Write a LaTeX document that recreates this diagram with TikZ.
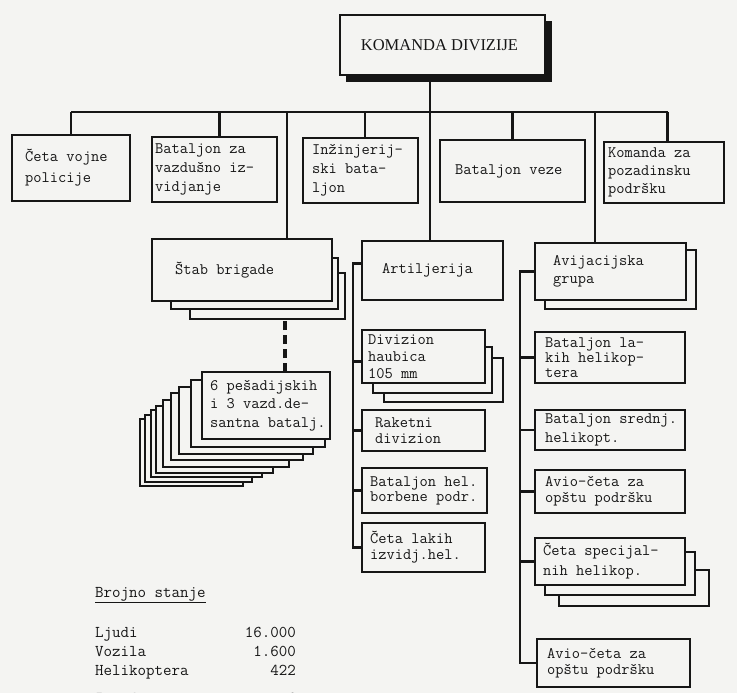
\documentclass[tikz,border=0pt]{standalone}
\usepackage{fontspec}
\setmainfont{Liberation Serif}
\usetikzlibrary{calc}
\definecolor{paper}{RGB}{244,244,242}
\definecolor{ink}{RGB}{22,22,22}
\tikzset{
  ubx/.style={draw=ink, line width=1.8pt, fill=paper, rectangle, inner sep=0pt, outer sep=0pt},
  utx/.style={font=\ttfamily\fontsize{16}{#1}\selectfont, align=left, inner sep=0pt, text=ink},
  btx/.style={font=\ttfamily\fontsize{16.5}{19}\selectfont, inner sep=0pt, text=ink},
  conn/.style={draw=ink, line width=2.4pt},
  dconn/.style={draw=ink, line width=3.2pt, dash pattern=on 9pt off 5pt},
}
% \orgbox[baselineskip]{name}{x1}{y1}{x2}{y2}{text x offset}{text}
\newcommand\orgbox[8][18]{%
  \node[ubx, minimum width={(#5-#3)*1pt}, minimum height={(#6-#4)*1pt}] (#2) at ({(#3+#5)/2},{(#4+#6)/2}) {};
  \node[utx=#1, anchor=west] (#2t) at ([xshift=#7pt]#2.west) {#8};}
% \backcard{name}{x1}{y1}{x2}{y2}
\newcommand\backcard[5]{%
  \node[ubx, minimum width={(#4-#2)*1pt}, minimum height={(#5-#3)*1pt}] (#1) at ({(#2+#4)/2},{(#3+#5)/2}) {};}
\begin{document}
\begin{tikzpicture}[x=1pt,y=-1pt]
\useasboundingbox (0,0) rectangle (737,693);
\clip (0,0) rectangle (737,693);
\fill[paper] (0,0) rectangle (737,693);

% top command box with heavy shadow
\node[fill=ink, minimum width=206pt, minimum height=61pt, inner sep=0pt, outer sep=0pt] (kds) at (449,51.5) {};
\node[ubx, minimum width=205pt, minimum height=60pt] (kd) at (442.5,45) {};
\node[font=\fontsize{16.5}{18}\selectfont, text=ink, inner sep=0pt] (kdt) at ([xshift=-3pt]kd.center) {KOMANDA DIVIZIJE};

% first row
\orgbox[21]{cvp}{12}{135}{130}{201}{13}{Četa vojne\\policije}
\orgbox[19]{bzv}{152}{137}{277}{202}{3}{Bataljon za\\vazdušno iz-\\vidjanje}
\orgbox[19]{ib}{303}{138}{418}{203}{9}{Inžinjerij-\\ski bata-\\ljon}
\orgbox{bv}{440}{140}{585}{202}{15}{Bataljon veze}
\orgbox[18]{kpp}{604}{142}{724}{203}{4}{Komanda za\\pozadinsku\\podršku}

% Stab brigade with stacked cards
\backcard{stabs2}{190}{273}{345}{319}
\backcard{stabs1}{171}{258}{338}{309}
\orgbox{stab}{152}{239}{332}{301}{23}{Štab brigade}

% battalion fan
\foreach \i/\l/\b/\r in {8/140/486/243, 7/145/482/252, 6/151/477/262, 5/156/473/273, 4/163/467/289, 3/171/460/303, 2/179/454/313, 1/191/447/325}{
  \node[ubx, minimum width={(\r-\l)*1pt}, minimum height=67pt] (pes\i) at ({(\l+\r)/2},{\b-33.5}) {};
}
\orgbox[18.5]{pes}{202}{372}{330}{439}{8}{6 pešadijskih\\i 3 vazd.de-\\santna batalj.}

% artillery column
\orgbox{art}{362}{241}{503}{300}{20}{Artiljerija}
\backcard{dhs2}{384}{358}{503}{402}
\backcard{dhs1}{373}{347}{492}{393}
\orgbox[17]{dh}{362}{330}{485}{383}{6}{Divizion\\haubica\\105 mm}
\orgbox[16]{rd}{362}{410}{485}{451}{13}{Raketni\\divizion}
\orgbox[15]{bhb}{362}{468}{487}{513}{8}{Bataljon hel.\\borbene podr.}
\orgbox[16]{cli}{362}{523}{485}{572}{8}{Četa lakih\\izvidj.hel.}

% aviation column
\backcard{avgs}{545}{250}{696}{309}
\orgbox[18]{avg}{535}{243}{686}{300}{18}{Avijacijska\\grupa}
\orgbox[15]{blh}{535}{332}{685}{383}{10}{Bataljon la-\\kih helikop-\\tera}
\orgbox[19]{bsh}{535}{410}{685}{450}{10}{Bataljon srednj.\\helikopt.}
\orgbox[16]{aco1}{535}{470}{685}{513}{10}{Avio-četa za\\opštu podršku}
\backcard{cshs2}{559}{570}{709}{606}
\backcard{cshs1}{545}{552}{695}{595}
\orgbox[20]{csh}{535}{538}{685}{585}{8}{Četa specijal-\\nih helikop.}
\orgbox[16]{aco2}{537}{639}{690}{687}{10}{Avio-četa za\\opštu podršku}

% connectors from the top
\coordinate (bar) at (0,112);
\draw[conn] (cvp.north |- bar) -- ([xshift=3.5pt]kpp.north |- bar);
\draw[conn] (cvp.north |- bar) -- (cvp.north);
\draw[conn] ([xshift=5pt]bzv.north |- bar) -- ([xshift=5pt]bzv.north);
\draw[conn] ([xshift=45pt]stab.north |- bar) -- ([xshift=45pt]stab.north);
\draw[conn] ([xshift=4.5pt]ib.north |- bar) -- ([xshift=4.5pt]ib.north);
\draw[conn] ([xshift=-2.5pt]art.north |- kds.south) -- ([xshift=-2.5pt]art.north);
\draw[conn] (bv.north |- bar) -- (bv.north);
\draw[conn] ([xshift=-15.5pt]avg.north |- bar) -- ([xshift=-15.5pt]avg.north);
\draw[conn] ([xshift=3.5pt]kpp.north |- bar) -- ([xshift=3.5pt]kpp.north);

% dashed link to battalions
\draw[dconn] ([xshift=19pt]pes.north) -- ([xshift=19pt]pes.north |- stabs2.south);

% artillery spine
\draw[conn] ([yshift=7pt]art.west) -- ++(-9,0) coordinate (ms) -- (ms |- cli.west) -- (cli.west);
\draw[conn] ([yshift=-5pt]dh.west) -- ([yshift=-5pt]dh.west -| ms);
\draw[conn] (rd.west) -- (rd.west -| ms);
\draw[conn] (bhb.west) -- (bhb.west -| ms);

% aviation spine
\draw[conn] (avg.west) -- ++(-15,0) coordinate (rs) -- (rs |- aco2.west) -- (aco2.west);
\draw[conn] (blh.west) -- (blh.west -| rs);
\draw[conn] (bsh.west) -- (bsh.west -| rs);
\draw[conn] (aco1.west) -- (aco1.west -| rs);
\draw[conn] (csh.west) -- (csh.west -| rs);

% strength table
\node[btx, anchor=base west] (bs) at (95,597) {\underline{Brojno stanje}};
\node[btx, anchor=base west] (l1) at (95,637) {Ljudi};
\node[btx, anchor=base east] (v1) at (296,637) {16.000};
\node[btx, anchor=base west] (l2) at (95,656) {Vozila};
\node[btx, anchor=base east] (v2) at (296,656) {1.600};
\node[btx, anchor=base west] (l3) at (95,675) {Helikoptera};
\node[btx, anchor=base east] (v3) at (296,675) {422};
\node[btx, anchor=base west] (l4) at (95,703) {Izvidj. aviona};
\node[btx, anchor=base east] (v4) at (296,703) {6};
\end{tikzpicture}
\end{document}
